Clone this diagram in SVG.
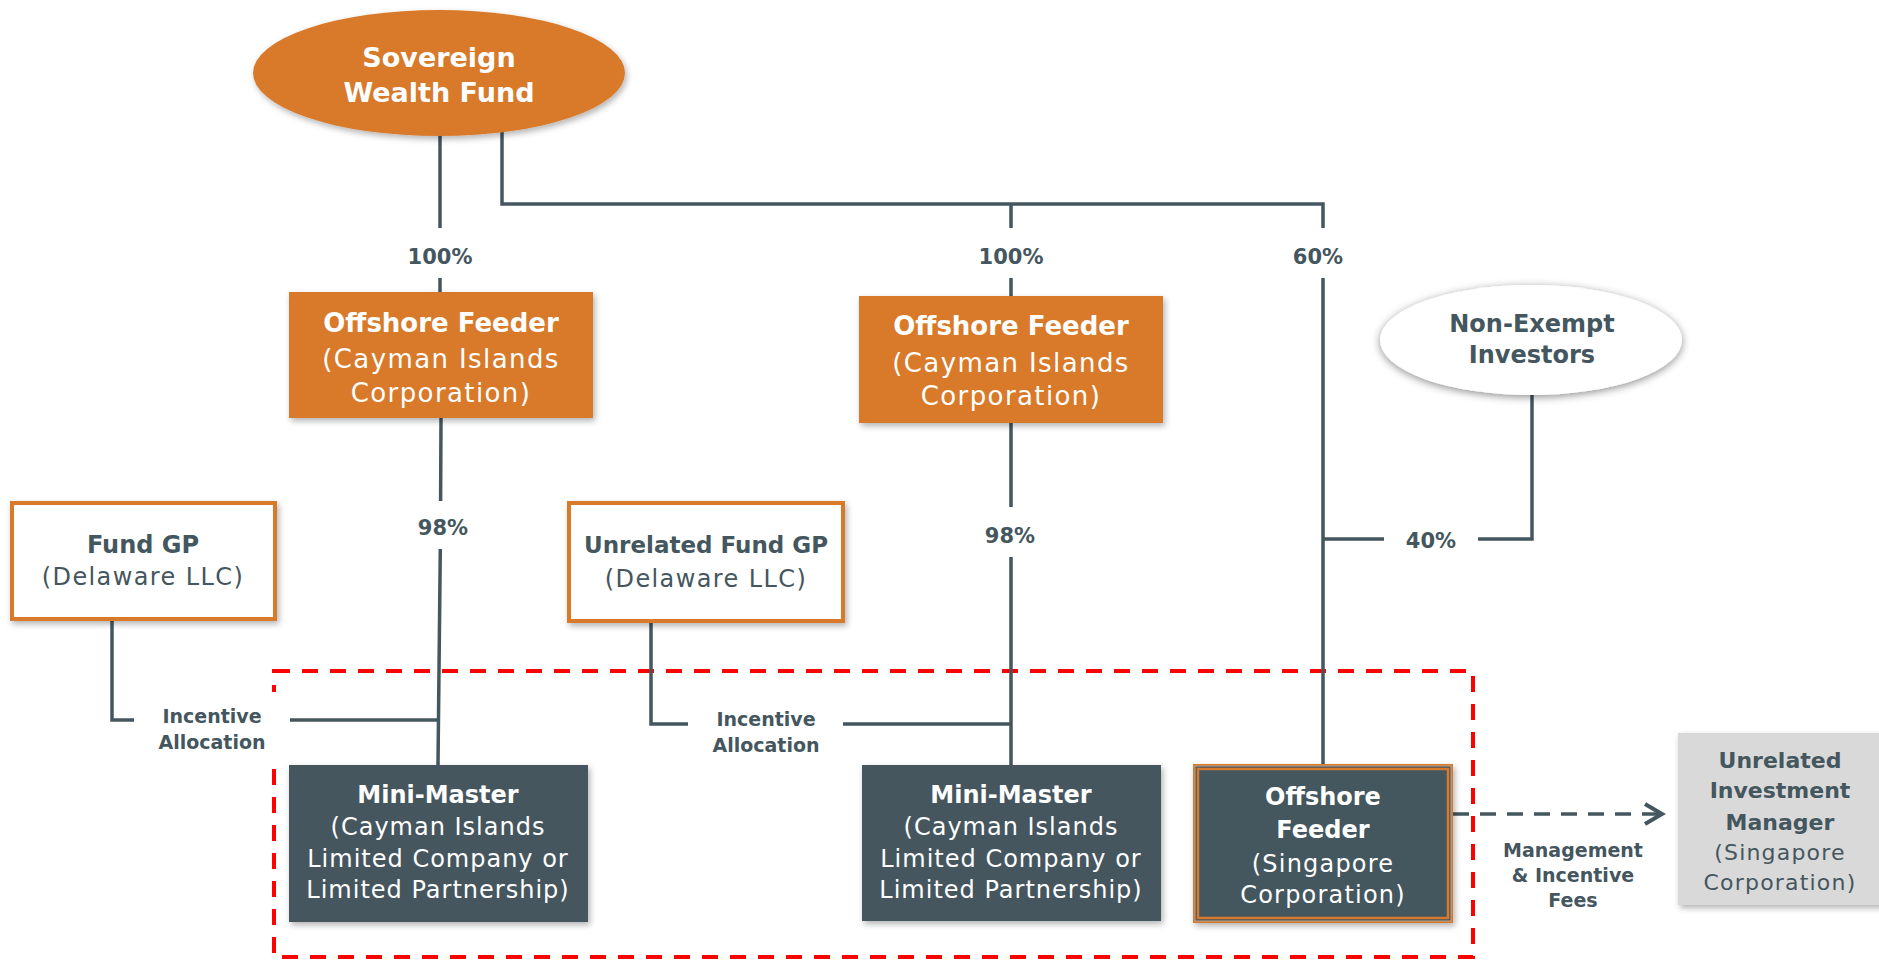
<svg xmlns="http://www.w3.org/2000/svg" width="1879" height="960" viewBox="0 0 1879 960">
<defs>
<filter id="sh" x="-20%" y="-20%" width="140%" height="150%">
<feDropShadow dx="2" dy="3" stdDeviation="3" flood-color="#000" flood-opacity="0.3"/>
</filter>
<filter id="glow" x="-20%" y="-30%" width="140%" height="160%">
<feDropShadow dx="0" dy="2" stdDeviation="4" flood-color="#000" flood-opacity="0.45"/>
</filter>
<marker id="chev" markerWidth="24" markerHeight="26" refX="20" refY="12" orient="auto" markerUnits="userSpaceOnUse">
<path d="M3 2 L20 12 L3 22" fill="none" stroke="#44565e" stroke-width="4"/>
</marker>
</defs>
<style>
text{font-family:"DejaVu Sans","Liberation Sans",sans-serif;text-anchor:middle}
.b{font-weight:bold}
.w{fill:#ffffff}
.d{fill:#44565e}
.ln{fill:none;stroke:#44565e;stroke-width:3.5}
.pct{font-weight:bold;font-size:21px;fill:#44565e}
.lbl{font-weight:bold;font-size:19px;fill:#44565e}
</style>
<rect width="1879" height="960" fill="#ffffff"/>

<rect x="274" y="671" width="1199" height="286" fill="none" stroke="#ff0000" stroke-width="4" stroke-dasharray="16 12"/>

<g id="connectors">
<path class="ln" d="M440 130 V228 M440 278 V292"/>
<path class="ln" d="M502 130 V204 H1323 V228 M1011 204 V228 M1011 278 V296 M1323 278 V764"/>
<path class="ln" d="M1323 539 H1384 M1478 539 H1532 V395"/>
<path class="ln" d="M441 418 L440.6 501 M440.3 549 L438 765"/>
<path class="ln" d="M1011 423 V507 M1011 557 V765"/>
<path class="ln" d="M112 621 V720 H134 M290 720 H438"/>
<path class="ln" d="M651 623 V724 H688 M843 724 H1011"/>
<path class="ln" d="M1453 814 H1662" stroke-dasharray="16 11" marker-end="url(#chev)"/>
<text class="pct" x="440" y="264">100%</text>
<text class="pct" x="1011" y="264">100%</text>
<text class="pct" x="1318" y="264">60%</text>
<text class="pct" x="1431" y="548">40%</text>
<text class="pct" x="443" y="535">98%</text>
<text class="pct" x="1010" y="543">98%</text>
<rect x="138" y="692" width="148" height="72" fill="#ffffff"/>
<text class="lbl" x="212" y="723">Incentive</text>
<text class="lbl" x="212" y="749">Allocation</text>
<text class="lbl" x="766" y="726">Incentive</text>
<text class="lbl" x="766" y="752">Allocation</text>
<text class="lbl" x="1573" y="857">Management</text>
<text class="lbl" x="1573" y="882">&amp; Incentive</text>
<text class="lbl" x="1573" y="907">Fees</text>
</g>

<g id="sovereign">
<ellipse cx="439" cy="73" rx="186" ry="63" fill="#d87a2c" filter="url(#sh)"/>
<text class="b w" font-size="27" x="439" y="67">Sovereign</text>
<text class="b w" font-size="27" x="439" y="102">Wealth Fund</text>
</g>

<g id="offshore1">
<rect x="289" y="292" width="304" height="126" fill="#d87a2c" filter="url(#sh)"/>
<text class="b w" font-size="26" x="441" y="332">Offshore Feeder</text>
<text class="w" font-size="26" letter-spacing="1.4" x="441" y="368">(Cayman Islands</text>
<text class="w" font-size="26" letter-spacing="1.4" x="441" y="402">Corporation)</text>
</g>

<g id="offshore2">
<rect x="859" y="296" width="304" height="127" fill="#d87a2c" filter="url(#sh)"/>
<text class="b w" font-size="26" x="1011" y="335">Offshore Feeder</text>
<text class="w" font-size="26" letter-spacing="1.4" x="1011" y="372">(Cayman Islands</text>
<text class="w" font-size="26" letter-spacing="1.4" x="1011" y="405">Corporation)</text>
</g>

<g id="nonexempt">
<ellipse cx="1531" cy="340" rx="151" ry="55" fill="#ffffff" filter="url(#glow)"/>
<text class="b d" font-size="24" x="1532" y="332">Non-Exempt</text>
<text class="b d" font-size="24" x="1532" y="363">Investors</text>
</g>

<g id="fundgp">
<rect x="12" y="503" width="263" height="116" fill="#ffffff" stroke="#d87a2c" stroke-width="4" filter="url(#sh)"/>
<text class="b d" font-size="24" x="143" y="553">Fund GP</text>
<text class="d" font-size="24" letter-spacing="1.4" x="143" y="585">(Delaware LLC)</text>
</g>

<g id="unrelatedgp">
<rect x="569" y="503" width="274" height="118" fill="#ffffff" stroke="#d87a2c" stroke-width="4" filter="url(#sh)"/>
<text class="b d" font-size="23" x="706" y="553">Unrelated Fund GP</text>
<text class="d" font-size="24" letter-spacing="1.4" x="706" y="587">(Delaware LLC)</text>
</g>

<g id="minimaster1">
<rect x="289" y="765" width="299" height="157" fill="#44565e" filter="url(#sh)"/>
<text class="b w" font-size="24" x="438" y="803">Mini-Master</text>
<text class="w" font-size="24" letter-spacing="1" x="438" y="835">(Cayman Islands</text>
<text class="w" font-size="24" letter-spacing="1" x="438" y="867">Limited Company or</text>
<text class="w" font-size="24" letter-spacing="1" x="438" y="898">Limited Partnership)</text>
</g>

<g id="minimaster2">
<rect x="862" y="765" width="299" height="156" fill="#44565e" filter="url(#sh)"/>
<text class="b w" font-size="24" x="1011" y="803">Mini-Master</text>
<text class="w" font-size="24" letter-spacing="1" x="1011" y="835">(Cayman Islands</text>
<text class="w" font-size="24" letter-spacing="1" x="1011" y="867">Limited Company or</text>
<text class="w" font-size="24" letter-spacing="1" x="1011" y="898">Limited Partnership)</text>
</g>

<g id="singapore">
<rect x="1193" y="764" width="260" height="159" fill="#d87a2c" filter="url(#sh)"/>
<rect x="1195" y="766" width="256" height="155" fill="#44565e" stroke="#b89a85" stroke-width="1.2"/>
<rect x="1198" y="769" width="250" height="149" fill="#44565e" stroke="#d87a2c" stroke-width="2.5"/>
<text class="b w" font-size="24" x="1323" y="805">Offshore</text>
<text class="b w" font-size="24" x="1323" y="838">Feeder</text>
<text class="w" font-size="24" letter-spacing="1.2" x="1323" y="872">(Singapore</text>
<text class="w" font-size="24" letter-spacing="1.2" x="1323" y="903">Corporation)</text>
</g>

<g id="manager">
<rect x="1678" y="733" width="206" height="172" fill="#d9d9d9" filter="url(#sh)"/>
<text class="b d" font-size="22" x="1780" y="768">Unrelated</text>
<text class="b d" font-size="22" x="1780" y="798">Investment</text>
<text class="b d" font-size="22" x="1780" y="830">Manager</text>
<text class="d" font-size="22" letter-spacing="1.2" x="1780" y="860">(Singapore</text>
<text class="d" font-size="22" letter-spacing="1.2" x="1780" y="890">Corporation)</text>
</g>
</svg>
